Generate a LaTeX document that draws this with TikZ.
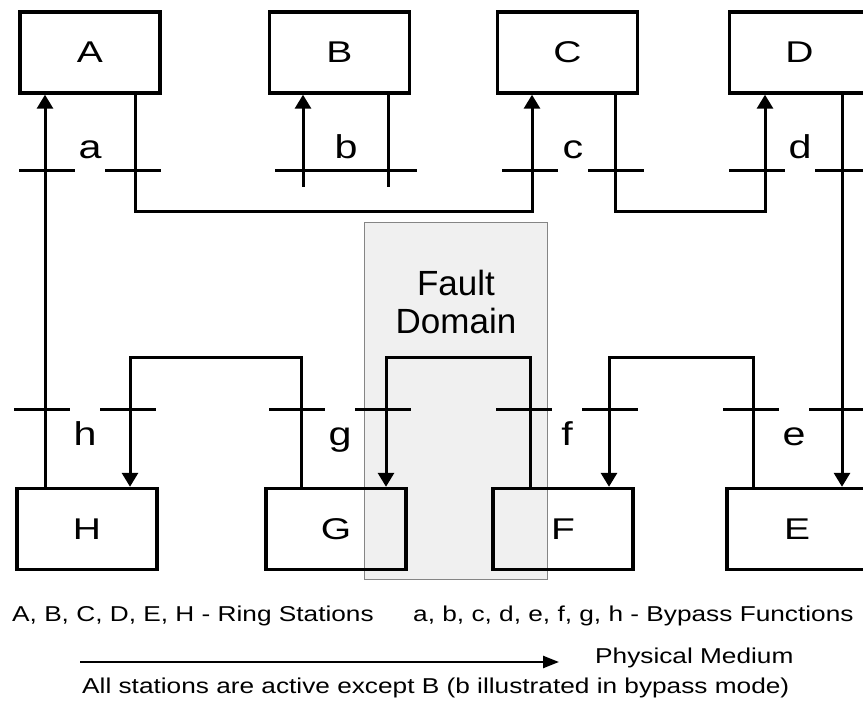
\documentclass[tikz,border=0pt]{standalone}
\usepackage{fontspec}
\usepackage{xcolor}
\setmainfont{Liberation Sans}
\newfontfamily\stationfont[FakeStretch=1.3]{Liberation Sans}
\newfontfamily\tagfont[FakeStretch=1.25]{Liberation Sans}
\newfontfamily\legendfont[FakeStretch=1.22]{Liberation Sans}
\usetikzlibrary{arrows.meta}

\definecolor{zonefill}{HTML}{F0F0F0}
\definecolor{zoneedge}{HTML}{858585}

\begin{document}
\begin{tikzpicture}[
  x=1pt, y=-1pt,
  >={Triangle[length=14pt,width=16pt]},
  station/.style={draw,line width=3.4pt,minimum width=140pt,minimum height=81pt,inner sep=0pt,font=\stationfont\fontsize{30}{30}\selectfont},
  ring/.style={line width=3pt},
  bypass/.style={line width=3pt},
  tag/.style={anchor=base,inner sep=0pt,font=\tagfont\fontsize{33}{33}\selectfont},
  faultzone/.style={draw=zoneedge,fill=zonefill,line width=1pt,minimum width=183pt,minimum height=357pt},
  legend/.style={anchor=base west,inner sep=0pt,font=\legendfont\fontsize{21.5}{24}\selectfont}
]
  \useasboundingbox (0,0) rectangle (863,708);
  \clip (0,0) rectangle (863,708);

  % fault domain sits behind the ring
  \node[faultzone] (zone) at (456,401) {};
  \node[align=center,inner sep=0pt,font=\fontsize{35}{38}\selectfont] (fault) at (456,301.5) {Fault\\Domain};

  % ring stations
  \node[station] (A) at (90,52.5) {A};
  \node[station] (B) at (339.5,52.5) {B};
  \node[station] (C) at (567.5,52.5) {C};
  \node[station] (D) at (799.5,52.5) {D};
  \node[station] (H) at (87,529) {H};
  \node[station] (G) at (336,529) {G};
  \node[station] (F) at (563,529) {F};
  \node[station] (E) at (797,529) {E};

  % bypass functions (open relays)
  \foreach \n/\x/\y/\dy in {a/90/171/12, c/573/171/12, d/800/171/12,
                            h/85/410/-36, g/340/410/-36, f/567/410/-36, e/794/410/-36} {
    \coordinate (\n) at (\x,\y);
    \draw[bypass] ([xshift=-71pt]\n) -- ([xshift=-15pt]\n);
    \draw[bypass] ([xshift=15pt]\n) -- ([xshift=71pt]\n);
    \node[tag] (\n-tag) at ([yshift=\dy pt]\n) {\n};
  }
  % b is closed
  \coordinate (b) at (346,171);
  \draw[bypass] ([xshift=-71pt]b) -- ([xshift=71pt]b);
  \node[tag] (b-tag) at ([yshift=12pt]b) {b};

  % ring bends
  \coordinate (A-out) at (135,212);
  \coordinate (C-in) at (532,212);
  \coordinate (C-out) at (615,212);
  \coordinate (D-in) at (765,212);
  \coordinate (D-out) at (842,212);
  \coordinate (E-out) at (753,358);
  \coordinate (F-in) at (609,358);
  \coordinate (F-out) at (530,358);
  \coordinate (G-in) at (386,358);
  \coordinate (G-out) at (301,358);
  \coordinate (H-in) at (130,358);
  \coordinate (H-out) at (45,358);
  \coordinate (B-in) at (303,187);
  \coordinate (B-out) at (388,187);

  \draw[ring,->] (A.south -| A-out) -- (A-out) -- (C-in) -- (C.south -| C-in);
  \draw[ring,->] (C.south -| C-out) -- (C-out) -- (D-in) -- (D.south -| D-in);
  \draw[ring,->] (D.south -| D-out) -- (E.north -| D-out);
  \draw[ring,->] (E.north -| E-out) -- (E-out) -- (F-in) -- (F.north -| F-in);
  \draw[ring,->] (F.north -| F-out) -- (F-out) -- (G-in) -- (G.north -| G-in);
  \draw[ring,->] (G.north -| G-out) -- (G-out) -- (H-in) -- (H.north -| H-in);
  \draw[ring,->] (H.north -| H-out) -- (A.south -| H-out);
  % B only has stubs down to its relay
  \draw[ring,->] (B-in) -- (B.south -| B-in);
  \draw[ring] (B.south -| B-out) -- (B-out);

  % key
  \node[legend] (stations) at (12,622) {A, B, C, D, E, H - Ring Stations};
  \node[legend] (functions) at (413,622) {a, b, c, d, e, f, g, h - Bypass Functions};
  \node[legend] (medium) at (595,663) {Physical Medium};
  \node[legend] (note) at (82,693) {All stations are active except B (b illustrated in bypass mode)};
  \coordinate (m0) at (80,662);
  \coordinate (m1) at (559,662);
  \draw[line width=2.4pt,-{Triangle[length=16pt,width=12pt]}] (m0) -- (m1);
\end{tikzpicture}
\end{document}
